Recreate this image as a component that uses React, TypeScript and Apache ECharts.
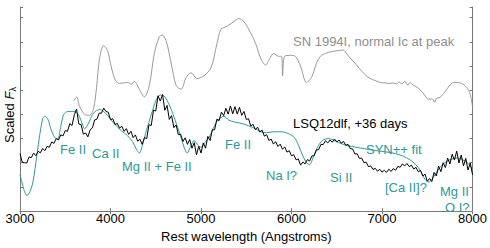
import React, { useEffect, useRef } from "react";
import * as echarts from "echarts";

const X_MIN = 3000;
const X_MAX = 8000;
const X_TICKS = [3000, 4000, 5000, 6000, 7000, 8000];

// LSQ12dlf +36 d, sampled every 25 Angstrom from 3000
const BLACK_START = 3000;
const BLACK_STEP = 25;
const BLACK_FLUX = [
  2.38, 2.02, 2.0, 1.99, 2.24, 2.21, 2.4, 2.29, 2.47, 2.41, 2.59, 2.5, 2.68, 2.64, 2.86, 2.8, 3.0, 2.94, 3.15, 3.11,
  3.33, 3.3, 3.62, 3.54, 3.98, 4.22, 3.6, 3.58, 3.18, 3.23, 3.07, 3.36, 3.44, 3.77, 3.8, 4.05, 4.05, 4.26, 4.12, 4.09,
  3.78, 3.82, 3.58, 3.63, 3.43, 3.51, 3.3, 3.41, 3.17, 3.3, 3.04, 3.15, 2.89, 2.97, 2.76, 3.04, 3.0, 3.57, 3.54, 4.17,
  4.14, 4.77, 4.55, 4.82, 4.17, 4.37, 3.79, 3.95, 3.45, 3.56, 3.16, 3.18, 2.88, 3.03, 2.76, 2.96, 2.6, 2.83, 2.33, 2.68,
  2.4, 2.82, 2.6, 3.09, 2.92, 3.36, 3.36, 3.8, 3.74, 4.09, 3.95, 4.25, 4.01, 4.35, 4.02, 4.32, 4.01, 4.29, 3.96, 4.12,
  3.79, 3.82, 3.52, 3.59, 3.37, 3.47, 3.27, 3.35, 3.1, 3.16, 2.92, 2.98, 2.77, 2.87, 2.67, 2.77, 2.56, 2.65, 2.44, 2.5,
  2.29, 2.33, 2.12, 2.16, 1.9, 2.03, 1.95, 2.13, 2.07, 2.28, 2.29, 2.53, 2.54, 2.76, 2.75, 2.91, 2.82, 2.94, 2.85, 2.98,
  2.86, 2.94, 2.81, 2.88, 2.72, 2.76, 2.58, 2.57, 2.36, 2.37, 2.18, 2.19, 2.0, 2.02, 1.84, 1.87, 1.72, 1.77, 1.65, 1.73,
  1.61, 1.69, 1.6, 1.73, 1.64, 1.76, 1.69, 1.85, 1.81, 1.95, 1.87, 1.97, 1.84, 1.9, 1.74, 1.81, 1.63, 1.68, 1.45, 1.53,
  1.23, 1.35, 1.22, 1.6, 1.45, 1.86, 1.63, 2.0, 1.8, 2.19, 1.95, 2.35, 2.11, 2.48, 1.99, 2.32, 1.87, 2.18, 1.7, 1.99,
  1.5,
];

// SN 1994I at peak [wavelength, scaled flux]
const GREY: [number, number][] = [
  [3593, 4.56], [3626, 4.72], [3659, 4.32], [3714, 4.0], [3769, 3.96], [3813, 4.24], [3846, 5.12], [3879, 6.32],
  [3923, 6.84], [3967, 6.64], [4011, 5.92], [4055, 5.4], [4099, 5.28], [4143, 5.3], [4187, 5.32], [4230, 5.25],
  [4264, 5.36], [4319, 5.04], [4374, 4.72], [4429, 5.2], [4484, 6.52], [4538, 7.2], [4571, 7.28], [4615, 7.04],
  [4670, 6.12], [4725, 5.2], [4780, 5.04], [4835, 5.52], [4890, 5.72], [4956, 5.48], [5033, 5.6], [5110, 5.92],
  [5176, 6.92], [5220, 7.52], [5286, 7.64], [5363, 7.84], [5418, 7.96], [5473, 7.84], [5527, 7.52], [5604, 6.92],
  [5659, 6.32], [5714, 6.04], [5758, 6.3], [5802, 6.52], [5857, 6.4], [5890, 6.4], [5901, 5.6], [5923, 6.4],
  [5989, 6.44], [6044, 6.4], [6099, 6.0], [6165, 5.32], [6220, 5.52], [6275, 6.1], [6319, 6.4], [6374, 6.52],
  [6450, 6.6], [6520, 6.64], [6571, 6.66], [6620, 6.45], [6681, 6.2], [6750, 5.9], [6813, 5.64], [6870, 5.48],
  [6923, 5.4], [6980, 5.32], [7033, 5.3], [7080, 5.28], [7121, 5.3], [7160, 5.26], [7190, 5.34], [7220, 5.26],
  [7250, 5.36], [7286, 5.2], [7310, 5.32], [7341, 5.22], [7396, 5.1], [7450, 4.9], [7505, 4.64], [7560, 4.62],
  [7580, 4.5], [7600, 4.66], [7640, 4.7], [7692, 4.92], [7758, 5.24], [7800, 5.32], [7835, 5.32], [7880, 5.28],
  [7923, 5.16], [7967, 4.92], [8000, 4.32],
];

// SYN++ fit [wavelength, scaled flux]
const TEAL: [number, number][] = [
  [3000, 1.52], [3044, 0.88], [3077, 0.64], [3110, 0.8], [3143, 1.2], [3187, 2.32], [3220, 3.2], [3253, 3.84],
  [3275, 3.92], [3308, 3.8], [3341, 3.4], [3385, 3.04], [3418, 3.0], [3451, 3.52], [3484, 4.0], [3527, 4.12],
  [3582, 4.12], [3637, 4.04], [3681, 3.68], [3714, 3.4], [3758, 3.64], [3802, 4.0], [3846, 4.16], [3890, 4.2],
  [3923, 4.12], [3967, 3.96], [4044, 3.6], [4121, 3.32], [4187, 3.12], [4242, 2.88], [4286, 2.56], [4319, 2.4],
  [4352, 2.72], [4396, 3.32], [4451, 4.0], [4505, 4.6], [4549, 4.8], [4593, 4.76], [4648, 4.4], [4692, 4.0],
  [4736, 3.52], [4780, 3.04], [4813, 2.64], [4846, 2.4], [4890, 2.72], [4923, 2.92], [4967, 2.72], [5000, 2.64],
  [5044, 2.84], [5088, 3.04], [5132, 3.4], [5187, 3.76], [5253, 3.92], [5308, 3.76], [5374, 3.68], [5473, 3.6],
  [5582, 3.44], [5659, 3.28], [5725, 3.24], [5802, 3.28], [5890, 3.28], [5967, 3.2], [6033, 3.04], [6077, 2.72],
  [6121, 2.32], [6165, 2.0], [6198, 1.92], [6242, 2.24], [6286, 2.64], [6341, 2.92], [6407, 3.0], [6517, 2.84],
  [6604, 2.72], [6714, 2.64], [6901, 2.52], [7121, 2.4], [7231, 2.28], [7308, 2.12], [7374, 1.92], [7429, 1.64],
  [7473, 1.32], [7516, 1.2], [7560, 1.36], [7615, 1.68], [7670, 1.92], [7725, 2.08], [7780, 2.16], [7835, 2.2],
  [7890, 2.12], [7945, 2.0], [8000, 1.72],
];

const LINE_LABELS = ["Fe II", "Ca II", "Mg II + Fe II", "Fe II", "Na I?", "Si II", "[Ca II]?", "Mg II", "O I?"];
const LINE_LABEL_POS: [number, number][] = [
  [60, 149], [92, 153], [122, 166], [225, 144], [266, 175], [330, 177], [385, 187], [440, 191], [445, 207],
];

const TEAL_C = "#2c9a9a";
const GREY_C = "#8e8e8e";
const FONT = "Liberation Sans, Arial, sans-serif";

export default function App() {
  const ref = useRef<HTMLDivElement>(null);
  useEffect(() => {
    if (!ref.current) return;
    const chart = echarts.init(ref.current, undefined, { renderer: "svg" });
    const black = BLACK_FLUX.map((v, i) => [BLACK_START + i * BLACK_STEP, v]);
    const axisLine = { show: true, lineStyle: { color: "#7a7a7a", width: 1 } };
    const tickStyle = { show: true, inside: true, length: 3, lineStyle: { color: "#7a7a7a" } };
    const textEl = (text: string, x: number, y: number, color: string) => ({
      type: "text",
      x,
      y,
      style: { text, fill: color, font: `13px ${FONT}`, textAlign: "left", textVerticalAlign: "middle" },
      z: 100,
    });
    chart.setOption({
      animation: false,
      textStyle: { fontFamily: FONT },
      grid: { left: 20, right: 15, top: 7, bottom: 30, show: false },
      xAxis: [
        {
          type: "value",
          min: X_MIN,
          max: X_MAX,
          interval: 1000,
          position: "bottom",
          axisLine,
          axisTick: tickStyle,
          splitLine: { show: false },
          axisLabel: {
            color: "#000",
            fontSize: 13,
            margin: 1,
            fontFamily: FONT,
            formatter: (v: number) => (X_TICKS.includes(v) ? String(v) : ""),
          },
          name: "Rest wavelength (Angstroms)",
          nameLocation: "middle",
          nameGap: 15,
          nameTextStyle: { color: "#000", fontSize: 13, fontFamily: FONT },
        },
        {
          type: "value",
          min: X_MIN,
          max: X_MAX,
          interval: 1000,
          position: "top",
          axisLine,
          axisTick: tickStyle,
          splitLine: { show: false },
          axisLabel: { show: false },
        },
      ],
      yAxis: [
        {
          type: "value",
          min: 0,
          max: 8.44,
          interval: 1,
          position: "left",
          axisLine,
          axisTick: tickStyle,
          splitLine: { show: false },
          axisLabel: { show: false },
        },
        {
          type: "value",
          min: 0,
          max: 8.44,
          interval: 1,
          position: "right",
          axisLine,
          axisTick: tickStyle,
          splitLine: { show: false },
          axisLabel: { show: false },
        },
      ],
      series: [
        {
          type: "line",
          data: GREY,
          showSymbol: false,
          smooth: 0.3,
          lineStyle: { color: GREY_C, width: 0.9 },
          z: 2,
        },
        {
          type: "line",
          data: TEAL,
          showSymbol: false,
          smooth: 0.3,
          lineStyle: { color: TEAL_C, width: 1 },
          z: 3,
        },
        {
          type: "line",
          data: black,
          showSymbol: false,
          lineStyle: { color: "#000", width: 1 },
          z: 4,
        },
      ],
      graphic: [
        textEl("SN 1994I, normal Ic at peak", 293, 41, GREY_C),
        textEl("LSQ12dlf, +36 days", 293, 123, "#000"),
        textEl("SYN++ fit", 366, 149, TEAL_C),
        ...LINE_LABELS.map((t, i) => textEl(t, LINE_LABEL_POS[i][0], LINE_LABEL_POS[i][1], TEAL_C)),
        {
          type: "group",
          x: 9.5,
          y: 143,
          rotation: Math.PI / 2,
          children: [
            {
              type: "text",
              x: 0,
              y: 0,
              style: { text: "Scaled ", fill: "#000", font: `13px ${FONT}`, textAlign: "left", textVerticalAlign: "middle" },
            },
            {
              type: "text",
              x: 43.5,
              y: 0,
              style: { text: "F", fill: "#000", font: `italic 13px ${FONT}`, textAlign: "left", textVerticalAlign: "middle" },
            },
            {
              type: "text",
              x: 51.5,
              y: 3,
              style: { text: "λ", fill: "#000", font: `9px ${FONT}`, textAlign: "left", textVerticalAlign: "middle" },
            },
          ],
        },
      ],
    });
    return () => chart.dispose();
  }, []);
  return <div ref={ref} style={{ position: "absolute", left: 0, top: 0, width: 490, height: 248 }} />;
}
